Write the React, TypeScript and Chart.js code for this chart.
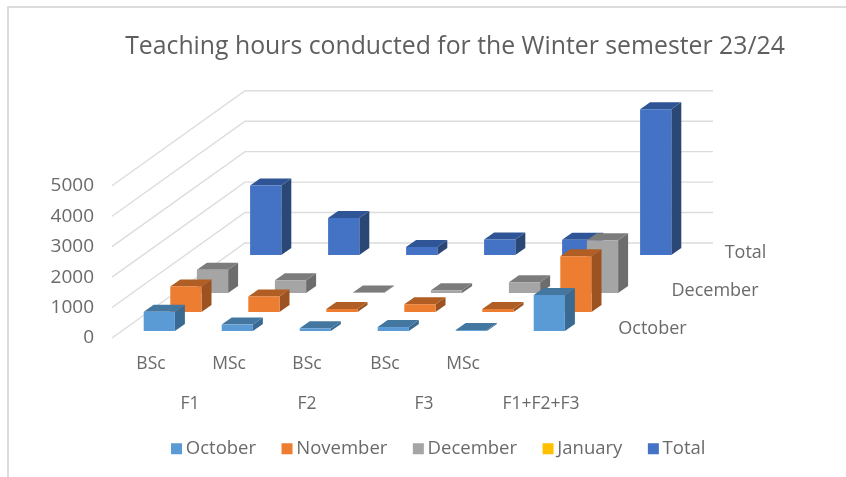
import React, { useEffect, useRef } from "react";
import { Chart, registerables } from "chart.js";

Chart.register(...registerables);

const categories = ["BSc", "MSc", "BSc", "BSc", "MSc", ""];
const groupLabels = ["F1", "F2", "F3", "F1+F2+F3"];
const groupPositions = [0.5, 2, 3.5, 5];
const chartTitle = "Teaching hours conducted for the Winter semester 23/24";

const october = [630, 210, 90, 130, 30, 1180];
const november = [840, 510, 100, 255, 100, 1830];
const december = [760, 420, 15, 90, 350, 1730];
const january: (number | null)[] = [null, null, null, null, null, null];
const total = [2280, 1215, 265, 510, 500, 4790];

const FONT = "'Open Sans', sans-serif";
const TEXT = "#6a6a6a";
const STEP_X = 26.6;
const STEP_Y = 19;
const DEPTH_X = 10;
const DEPTH_Y = 7;

const seriesStyle = [
  { name: "October", data: october, front: "#5B9BD5", top: "#44779F", side: "#3A6A92" },
  { name: "November", data: november, front: "#ED7D31", top: "#B15E25", side: "#9C5221" },
  { name: "December", data: december, front: "#A5A5A5", top: "#7C7C7C", side: "#6D6D6D" },
  { name: "January", data: january, front: "#FFC000", top: "#BF9000", side: "#A67D00" },
  { name: "Total", data: total, front: "#4472C4", top: "#2F5597", side: "#2A4776" },
];

const poly = (ctx: CanvasRenderingContext2D, pts: number[][], fill: string) => {
  ctx.beginPath();
  pts.forEach(([x, y], i) => (i ? ctx.lineTo(x, y) : ctx.moveTo(x, y)));
  ctx.closePath();
  ctx.fillStyle = fill;
  ctx.fill();
};

const box3d = {
  id: "box3d",
  afterLayout(chart: any) {
    const w = chart.width;
    chart.titleBlock.left = 64;
    chart.titleBlock.right = w;
    chart.legend.left = 36;
    chart.legend.right = w;
    chart.legend.top -= 9;
    chart.legend.bottom -= 9;
  },
  beforeDatasetsDraw(chart: any) {
    const { ctx, chartArea, scales } = chart;
    const n = seriesStyle.length;
    const backX = n * STEP_X;
    const backY = n * STEP_Y;
    ctx.save();
    ctx.strokeStyle = "#dcdcdc";
    ctx.lineWidth = 1.4;
    scales.y.ticks.forEach((t: any) => {
      const y = scales.y.getPixelForValue(t.value);
      ctx.beginPath();
      ctx.moveTo(chartArea.left, y);
      ctx.lineTo(chartArea.left + backX, y - backY);
      ctx.lineTo(chartArea.right + backX, y - backY);
      ctx.stroke();
    });
    ctx.fillStyle = TEXT;
    ctx.font = `18px ${FONT}`;
    ctx.textAlign = "left";
    ctx.textBaseline = "middle";
    seriesStyle.forEach((s, i) => {
      if (i % 2) return;
      ctx.fillText(
        s.name,
        chartArea.right + (i + 0.5) * STEP_X + 25,
        chartArea.bottom - (i + 0.5) * STEP_Y
      );
    });
    ctx.restore();
  },
  beforeDatasetDraw(chart: any, args: any) {
    const { ctx } = chart;
    const i = args.index;
    const style = seriesStyle[i];
    ctx.save();
    args.meta.data.forEach((el: any, k: number) => {
      const v = style.data[k];
      if (v === null || v === undefined) return;
      const l = el.x - el.width / 2 + (i + 0.5) * STEP_X - DEPTH_X / 2;
      const r = l + el.width;
      const shift = -(i + 0.5) * STEP_Y + 2.5;
      const t = el.y + shift;
      const b = el.base + shift;
      poly(ctx, [[r, t], [r + DEPTH_X, t - DEPTH_Y], [r + DEPTH_X, b - DEPTH_Y], [r, b]], style.side);
      poly(ctx, [[l, t], [l + DEPTH_X, t - DEPTH_Y], [r + DEPTH_X, t - DEPTH_Y], [r, t]], style.top);
      poly(ctx, [[l, t], [r, t], [r, b], [l, b]], style.front);
    });
    ctx.restore();
    return false;
  },
  afterDraw(chart: any) {
    const { ctx, legend } = chart;
    ctx.save();
    legend.legendItems.forEach((item: any, i: number) => {
      const hit = legend.legendHitBoxes[i];
      ctx.fillStyle = item.fillStyle;
      ctx.fillRect(hit.left - 5.5, hit.top + hit.height / 2 - 5.5, 11, 11);
    });
    ctx.restore();
  },
};

export default function App() {
  const ref = useRef<HTMLCanvasElement>(null);
  useEffect(() => {
    const chart = new Chart(ref.current as HTMLCanvasElement, {
      type: "bar",
      plugins: [box3d],
      data: {
        labels: categories,
        datasets: seriesStyle.map((s) => ({
          label: s.name,
          data: s.data,
          backgroundColor: s.front,
          grouped: false,
          categoryPercentage: 1,
          barPercentage: 0.4,
        })),
      },
      options: {
        responsive: false,
        animation: false,
        layout: { padding: 0 },
        plugins: {
          tooltip: { enabled: false },
          title: {
            display: true,
            text: chartTitle,
            color: "#5f5f5f",
            font: { family: FONT, size: 24.8, weight: "normal" },
            padding: { top: 32.5, bottom: 123.5 },
            fullSize: true,
          },
          legend: {
            position: "bottom",
            fullSize: true,
            labels: {
              boxWidth: 0,
              boxHeight: 11,
              padding: 31,
              color: TEXT,
              font: { family: FONT, size: 18.5 },
            },
          },
        },
        scales: {
          x: {
            type: "category",
            weight: 0,
            grid: { display: false },
            border: { display: false },
            ticks: { color: TEXT, font: { family: FONT, size: 17.5 }, padding: 8, maxRotation: 0, autoSkip: false },
            afterFit: (s: any) => { s.height = 48; },
          },
          x2: {
            type: "linear",
            position: "bottom",
            axis: "x",
            offset: false,
            weight: 1,
            min: -0.5,
            max: 5.5,
            grid: { display: false },
            border: { display: false },
            afterBuildTicks: (s: any) => { s.ticks = groupPositions.map((value) => ({ value })); },
            ticks: {
              color: TEXT,
              font: { family: FONT, size: 17.5 },
              padding: 0,
              maxRotation: 0,
              autoSkip: false,
              callback: (v: any) => groupLabels[groupPositions.indexOf(v)],
            },
            afterFit: (s: any) => { s.height = 31.5; },
          },
          y: {
            min: 0,
            max: 5000,
            grid: { display: false },
            border: { display: false },
            ticks: {
              stepSize: 1000,
              autoSkip: false,
              color: TEXT,
              font: { family: FONT, size: 19 },
              padding: 10,
              callback: (v: any) => String(v),
            },
            afterFit: (s: any) => { s.width = 112; },
          },
          depthSpace: {
            type: "linear",
            position: "right",
            axis: "y",
            grid: { display: false },
            border: { display: false },
            ticks: { display: false },
            afterFit: (s: any) => { s.width = 266; },
          },
        },
      },
    } as any);
    return () => chart.destroy();
  }, []);
  return (
    <div style={{ position: "absolute", left: 0, top: 0, width: 846, height: 477, background: "#fff", overflow: "hidden" }}>
      <canvas ref={ref} width={846} height={477} style={{ display: "block" }} />
      <div
        style={{
          position: "absolute",
          left: 7,
          top: 6,
          width: 839,
          height: 471,
          boxSizing: "border-box",
          borderLeft: "2px solid #dcdcdc",
          borderTop: "2px solid #dcdcdc",
          pointerEvents: "none",
        }}
      />
    </div>
  );
}
